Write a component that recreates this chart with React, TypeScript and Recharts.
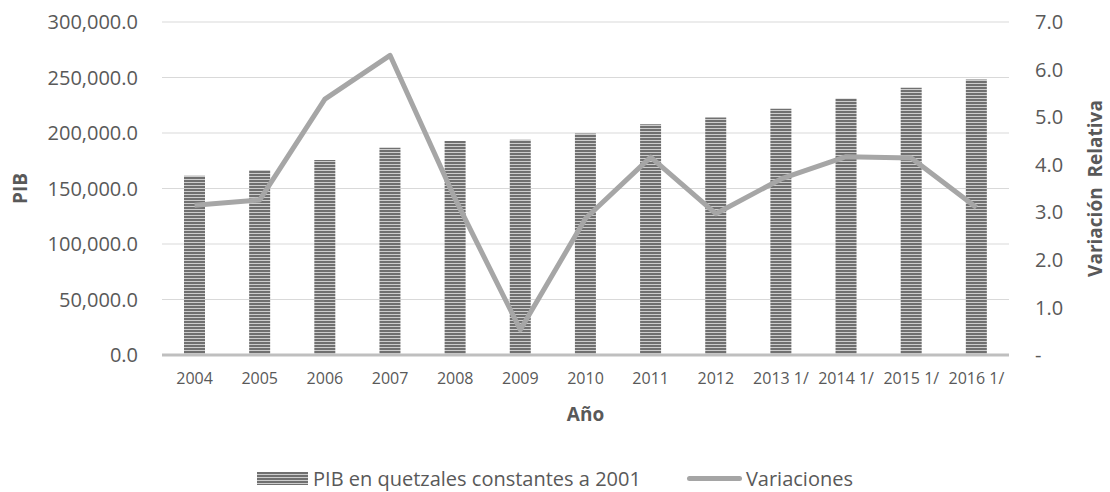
import { ComposedChart, Bar, Line, XAxis, YAxis, CartesianGrid, Legend } from 'recharts';

const years = ['2004', '2005', '2006', '2007', '2008', '2009', '2010', '2011', '2012', '2013 1/', '2014 1/', '2015 1/', '2016 1/'];
const pib = [161458, 166722, 175691, 186766, 192894, 193909, 199474, 207776, 213947, 221857, 231131, 240660, 248123];
const variaciones = [3.15, 3.26, 5.38, 6.3, 3.28, 0.53, 2.87, 4.16, 2.97, 3.7, 4.17, 4.14, 3.1];

const pibTicks = [0, 50000, 100000, 150000, 200000, 250000, 300000];
const varTicks = [0, 1, 2, 3, 4, 5, 6, 7];

const data = years.map((year, i) => ({ year, pib: pib[i], variacion: variaciones[i] }));

const FONT = "'Open Sans', sans-serif";
const TEXT = '#595959';

const fmtPib = (v: number) => v.toLocaleString('en-US', { minimumFractionDigits: 1, maximumFractionDigits: 1 });
const fmtVar = (v: number) => (v === 0 ? '-' : v.toFixed(1));

const stripes = 'repeating-linear-gradient(to bottom, #707070 0px, #707070 2px, #cdcdcd 2px, #cdcdcd 3px)';

function LegendContent() {
  return (
    <div style={{ display: 'flex', justifyContent: 'center', alignItems: 'flex-end', height: 67, paddingBottom: 0, boxSizing: 'border-box', fontSize: 20, color: TEXT, fontFamily: FONT }}>
      <div style={{ display: 'flex', alignItems: 'center' }}>
        <span style={{ display: 'inline-block', width: 51, height: 13, background: stripes, marginRight: 5 }} />
        <span>PIB en quetzales constantes a 2001</span>
      </div>
      <div style={{ display: 'flex', alignItems: 'center', marginLeft: 46 }}>
        <span style={{ display: 'inline-block', width: 55, height: 5, background: '#a5a5a5', borderRadius: 3, marginRight: 4 }} />
        <span>Variaciones</span>
      </div>
    </div>
  );
}

export default function App() {
  return (
    <div style={{ position: 'absolute', left: 0, top: 0, width: 1110, height: 492, background: '#fff', fontFamily: FONT }}>
      <ComposedChart width={1110} height={492} data={data} margin={{ top: 22, right: 0, bottom: 0, left: 0 }}>
        <defs>
          <pattern id="stripes" width="4" height="3" patternUnits="userSpaceOnUse">
            <rect width="4" height="3" fill="#cdcdcd" />
            <rect width="4" height="2" fill="#707070" />
          </pattern>
        </defs>
        <CartesianGrid yAxisId="left" vertical={false} stroke="#d9d9d9" strokeWidth={1} />
        <XAxis
          dataKey="year"
          height={70}
          tickLine={false}
          axisLine={{ stroke: '#bfbfbf', strokeWidth: 3 }}
          tick={{ fontSize: 16, fill: TEXT }}
          tickMargin={12}
          interval={0}
          label={{
            content: ({ viewBox }: any) => (
              <text x={viewBox.x + viewBox.width / 2} y={viewBox.y + 66} textAnchor="middle" fontSize={19} fontWeight={700} fill={TEXT}>
                Año
              </text>
            ),
          }}
        />
        <YAxis
          yAxisId="left"
          width={162}
          domain={[0, 300000]}
          ticks={pibTicks}
          tickFormatter={fmtPib}
          axisLine={false}
          tickLine={false}
          tickMargin={18}
          tick={{ fontSize: 20, fill: TEXT }}
          label={{
            content: ({ viewBox }: any) => (
              <text
                x={20}
                y={viewBox.y + viewBox.height / 2}
                transform={`rotate(-90, 20, ${viewBox.y + viewBox.height / 2})`}
                textAnchor="middle"
                dominantBaseline="central"
                fontSize={19}
                fontWeight={700}
                fill={TEXT}
              >
                PIB
              </text>
            ),
          }}
        />
        <YAxis
          yAxisId="right"
          orientation="right"
          width={101}
          domain={[0, 7]}
          ticks={varTicks}
          tickFormatter={fmtVar}
          axisLine={false}
          tickLine={false}
          tickMargin={20}
          tick={{ fontSize: 20, fill: TEXT }}
          label={{
            content: ({ viewBox }: any) => (
              <text
                x={viewBox.x + 86}
                y={viewBox.y + viewBox.height / 2}
                transform={`rotate(-90, ${viewBox.x + 86}, ${viewBox.y + viewBox.height / 2})`}
                textAnchor="middle"
                dominantBaseline="central"
                fontSize={19}
                fontWeight={700}
                fill={TEXT}
                style={{ whiteSpace: 'pre' }}
              >
                Variación  Relativa
              </text>
            ),
          }}
        />
        <Legend verticalAlign="bottom" content={() => <LegendContent />} />
        <Bar yAxisId="left" dataKey="pib" name="PIB en quetzales constantes a 2001" fill="url(#stripes)" barSize={21} isAnimationActive={false} />
        <Line
          yAxisId="right"
          type="linear"
          dataKey="variacion"
          name="Variaciones"
          stroke="#a6a6a6"
          strokeWidth={5}
          strokeLinejoin="round"
          dot={false}
          activeDot={false}
          isAnimationActive={false}
        />
      </ComposedChart>
    </div>
  );
}
